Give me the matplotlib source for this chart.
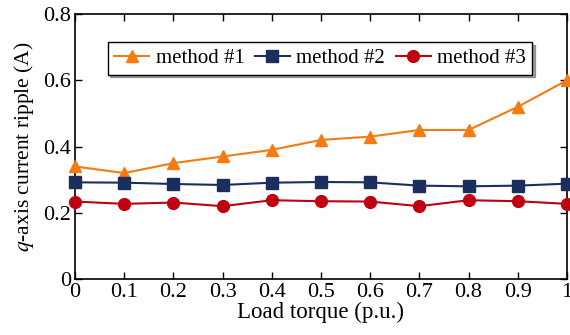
import matplotlib
matplotlib.use("Agg")
import matplotlib.pyplot as plt

load = [0, 0.1, 0.2, 0.3, 0.4, 0.5, 0.6, 0.7, 0.8, 0.9, 1.0]
method1 = [0.34, 0.32, 0.35, 0.37, 0.39, 0.42, 0.43, 0.45, 0.45, 0.52, 0.60]
method2 = [0.292, 0.291, 0.287, 0.284, 0.291, 0.293, 0.292, 0.282, 0.280, 0.282, 0.288]
method3 = [0.234, 0.227, 0.231, 0.220, 0.238, 0.235, 0.234, 0.220, 0.238, 0.235, 0.227]
xticks = [0, 0.1, 0.2, 0.3, 0.4, 0.5, 0.6, 0.7, 0.8, 0.9, 1]
xticklabels = ["0", "0.1", "0.2", "0.3", "0.4", "0.5", "0.6", "0.7", "0.8", "0.9", "1"]
yticks = [0, 0.2, 0.4, 0.6, 0.8]
yticklabels = ["0", "0.2", "0.4", "0.6", "0.8"]

plt.rcParams['font.family'] = ['Liberation Serif', 'DejaVu Serif']
plt.rcParams['mathtext.fontset'] = 'stix'

fig = plt.figure(figsize=(5.7, 3.35), dpi=100)
ax = fig.add_axes([0.1316, 0.167, 0.863, 0.791])

ax.plot(load, method1, color='#F57A10', marker='^', markersize=8.5, lw=1.5, label='method #1', clip_on=False, zorder=3)
ax.plot(load, method2, color='#1B2F5E', marker='s', markersize=8, lw=1.5, label='method #2', clip_on=False, zorder=3)
ax.plot(load, method3, color='#C00010', marker='o', markersize=8.5, lw=1.5, label='method #3', clip_on=False, zorder=3)

ax.set_xlim(0, 1)
ax.set_ylim(0, 0.8)
ax.set_xticks(xticks)
ax.set_xticklabels(xticklabels)
ax.set_yticks(yticks)
ax.set_yticklabels(yticklabels)
ax.tick_params(direction='in', top=True, right=True, labelsize=16, length=5, width=1, pad=3)
for s in ax.spines.values():
    s.set_linewidth(1.2)

ax.set_xlabel('Load torque (p.u.)', fontsize=16.5, labelpad=0)
ax.set_ylabel(r'$q$-axis current ripple (A)', fontsize=15.5, labelpad=5)

leg = ax.legend(loc='upper center', bbox_to_anchor=(0.498, 0.893), ncol=3, fontsize=15,
                frameon=True, fancybox=False, shadow=True, handlelength=1.7,
                handletextpad=0.3, columnspacing=0.5, borderpad=0.3, borderaxespad=0,
                edgecolor='black')
leg.get_frame().set_linewidth(1.0)

fig.savefig('out.png', dpi=100)
